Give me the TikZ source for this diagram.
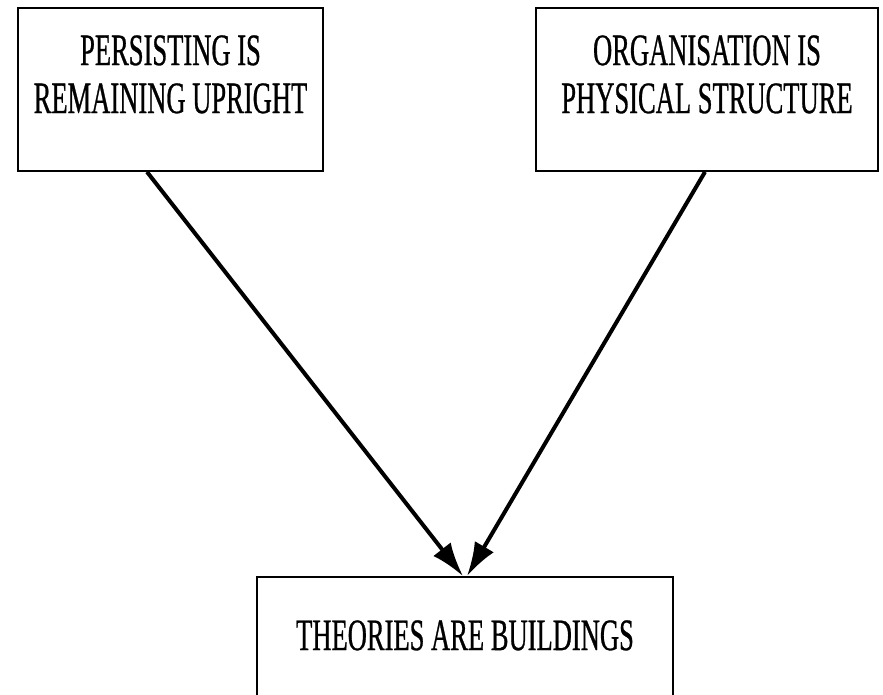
\documentclass[tikz,border=0pt]{standalone}
\usepackage{fontspec}
\setmainfont{Liberation Serif}[FakeStretch=0.59, FakeBold=0.6]
\usepackage{tikz}
\usetikzlibrary{arrows.meta, positioning, calc}

\tikzset{
  metabox/.style={draw, line width=1.8pt, inner sep=0pt, anchor=center},
  metatext/.style={align=center, inner sep=0pt, anchor=north,
    font=\fontsize{45}{48}\selectfont},
  maps/.style={line width=4pt, -{Latex[length=34pt,width=22pt]}}
}

\begin{document}
\begin{tikzpicture}[x=1pt, y=-1pt]
			%% Moldura
			\clip (0,0) rectangle (883,694);
			\fill[white] (0,0) rectangle (883,694);
			
			%% Caixa da esquerda
			\node [metabox, minimum width=305pt, minimum height=163pt] (persist) at (170.5,89.5) {};
			\node [metatext, below=28pt of persist.north] (persisttext) {PERSISTING IS\\REMAINING UPRIGHT};
			
			%% Caixa da direita
			\node [metabox, minimum width=342pt, minimum height=163pt] (organ) at (707,89.5) {};
			\node [metatext, below=28pt of organ.north] (organtext) {ORGANISATION IS\\PHYSICAL STRUCTURE};
			
			%% Caixa de baixo
			\node [metabox, minimum width=416pt, minimum height=200pt] (theories) at (465,677) {};
			\node [metatext, below=44pt of theories.north] (theoriestext) {THEORIES ARE BUILDINGS};
			
			%% Setas
			\draw [maps] ($(persist.south)+(-23.5,0)$) -- ([xshift=-2pt]theories.north);
			\draw [maps] ($(organ.south)+(-2,0)$) -- ([xshift=2pt]theories.north);
		\end{tikzpicture}
\end{document}
